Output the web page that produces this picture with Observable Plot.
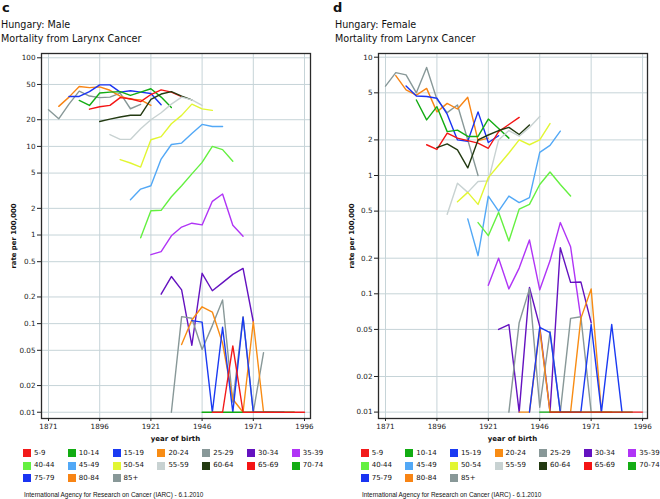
<!DOCTYPE html>
<html>
<head>
<meta charset="utf-8">
<script src="https://cdn.jsdelivr.net/npm/d3@7"></script>
<script src="https://cdn.jsdelivr.net/npm/@observablehq/plot@0.6"></script>
<style>
  html, body { margin: 0; padding: 0; background: #fff; }
  #wrap { position: relative; width: 660px; height: 499px; background: #fff; overflow: hidden; font-family: "DejaVu Sans", sans-serif; color: #111; }
  .abs { position: absolute; white-space: nowrap; }
  .panel { font-size: 13px; line-height: 13px; font-weight: bold; }
  .title { font-size: 9.6px; line-height: 14px; }
  .ylab { font-size: 6.9px; font-weight: bold; transform: translate(-50%, -50%) rotate(-90deg); }
  .xlab { font-size: 7px; font-weight: bold; transform: translate(-50%, -50%); }
  .sw { position: absolute; width: 8px; height: 8px; }
  .lt { position: absolute; font-size: 7px; line-height: 8px; white-space: nowrap; }
  .cap { font-family: "Liberation Sans", Arial, sans-serif; font-size: 6.4px; }
</style>
</head>
<body>
<div id="wrap"></div>
<script>
// ---- data ----
const ageGroups = ["5-9","10-14","15-19","20-24","25-29","30-34","35-39","40-44","45-49","50-54","55-59","60-64","65-69","70-74","75-79","80-84","85+"];
const colors = ["#f21a1a","#12ac12","#1a3af2","#f88c14","#889898","#6412c0","#b034f6","#64f040","#52a8f6","#e2f632","#c8d2d2","#233a12","#f41414","#14ac14","#1a34f2","#f88414","#889898"];
const cohortYears = [1871,1876,1881,1886,1891,1896,1901,1906,1911,1916,1921,1926,1931,1936,1941,1946,1951,1956,1961,1966,1971,1976,1981,1986,1991,1996];
const firstCohort = [1951,1946,1941,1936,1931,1926,1921,1916,1911,1906,1901,1896,1891,1886,1881,1876,1871];
const xTicks = [1871,1896,1921,1946,1971,1996];
const yTicksMale = [100,50,20,10,5,2,1,0.5,0.2,0.1,0.05,0.02,0.01];
const yTicksFemale = [10,5,2,1,0.5,0.2,0.1,0.05,0.02,0.01];

// Male rates per 100,000 (by birth cohort, 10 cohorts each)
const m5_9   = [0.01,0.01,0.056,0.01,0.01,0.01,0.01,0.01,0.01,0.01];
const m10_14 = [0.01,0.01,0.01,0.01,0.01,0.01,0.01,0.01,0.01,0.01];
const m15_19 = [0.108,0.104,0.01,0.091,0.01,0.118,0.01,0.01,0.01,0.01];
const m20_24 = [0.058,0.11,0.155,0.135,0.06,0.014,0.01,0.105,0.01,0.01];
const m25_29 = [0.01,0.12,0.115,0.051,0.095,0.185,0.013,0.12,0.01,0.047];
const m30_34 = [0.215,0.34,0.24,0.057,0.37,0.235,0.29,0.36,0.42,0.105];
const m35_39 = [0.6,0.65,0.98,1.23,1.36,1.3,2.4,2.9,1.29,0.97];
const m40_44 = [0.93,1.88,1.9,2.7,3.6,4.9,6.6,10,9.2,6.8];
const m45_49 = [2.5,3.3,3.6,7.2,10.5,10.9,14,17.7,16.8,16.8];
const m50_54 = [7.1,6.5,5.85,11.9,12.9,18,22.4,30,26.5,25.5];
const m55_59 = [13.6,12,12,15.8,20,24,30,36,33.5,29];
const m60_64 = [19.1,20.3,21.5,22.5,22.5,34,39,41.5,37,33.5];
const m65_69 = [26.3,28,29,35.5,34.5,32,38.5,43.5,41,36.5];
const m70_74 = [33,29,40,41,41.5,37.6,41,44.7,36,27.5];
const m75_79 = [36.6,36.6,41.5,49.5,49.5,41,42.5,41,39.5,29.5];
const m80_84 = [28.3,36,47.5,46,47,43,37,34,33.5,29];
const m85    = [25.9,20.5,30,42,37,35.5,36,40,26.6,29.8];

// Female rates per 100,000
const f5_9   = [0.01,0.01,0.01,0.01,0.01,0.01,0.01,0.01,0.01,0.01];
const f10_14 = [0.01,0.01,0.01,0.01,0.01,0.01,0.01,0.01,0.01,0.01];
const f15_19 = [0.01,0.052,0.047,0.01,0.01,0.01,0.055,0.01,0.055,0.01];
const f20_24 = [0.01,0.01,0.05,0.01,0.01,0.01,0.062,0.11,0.01,0.01];
const f25_29 = [0.01,0.057,0.11,0.011,0.048,0.01,0.062,0.064,0.01,0.01];
const f30_34 = [0.05,0.055,0.01,0.113,0.053,0.01,0.245,0.125,0.126,0.057];
const f35_39 = [0.118,0.2,0.11,0.165,0.285,0.108,0.19,0.4,0.25,0.062];
const f40_44 = [0.4,0.31,0.49,0.28,0.52,0.57,0.84,1.07,0.84,0.67];
const f45_49 = [0.43,0.21,0.67,0.5,0.67,0.59,0.65,1.57,1.8,2.37];
const f50_54 = [0.6,0.72,0.57,0.96,1.22,1.55,2.0,1.82,2.0,2.75];
const f55_59 = [0.47,0.86,0.72,0.89,0.9,2.0,2.4,2.15,2.55,3.15];
const f60_64 = [1.72,1.85,1.65,1.16,2.0,2.2,2.4,2.55,2.22,2.67];
const f65_69 = [1.82,1.66,2.28,2.07,1.97,1.88,1.7,2.35,2.7,3.1];
const f70_74 = [4.35,2.95,3.82,2.35,2.42,2.14,2.14,3.0,2.5,2.07];
const f75_79 = [5.7,4.7,4.65,4.5,3.3,2.0,1.95,3.45,1.9,2.17];
const f80_84 = [7.0,5.3,4.78,5.45,3.45,4.07,3.65,4.58,1.97,2.07];
const f85    = [5.7,7.4,7.1,5.0,8.2,4.4,3.4,3.95,2.0,1.0];

const maleRates = [m5_9,m10_14,m15_19,m20_24,m25_29,m30_34,m35_39,m40_44,m45_49,m50_54,m55_59,m60_64,m65_69,m70_74,m75_79,m80_84,m85];
const femaleRates = [f5_9,f10_14,f15_19,f20_24,f25_29,f30_34,f35_39,f40_44,f45_49,f50_54,f55_59,f60_64,f65_69,f70_74,f75_79,f80_84,f85];

function rows(rates) {
  const out = [];
  for (let g = ageGroups.length - 1; g >= 0; g--) {
    const s = cohortYears.indexOf(firstCohort[g]);
    rates[g].forEach((v, j) => out.push({age: ageGroups[g], year: cohortYears[s + j], rate: v}));
  }
  return out;
}

function panel(data, yTicks, yDomain, xDomain, mLeft, mRight) {
  return Plot.plot({
    width: 330, height: 445,
    marginLeft: mLeft, marginRight: mRight, marginTop: 53, marginBottom: 27,
    x: {domain: xDomain},
    y: {type: "log", domain: yDomain},
    color: {domain: ageGroups, range: colors},
    style: {fontFamily: "DejaVu Sans, sans-serif", fontSize: "7.2px", color: "#222", background: "transparent", overflow: "visible"},
    marks: [
      Plot.gridX(xTicks, {stroke: "#c6d4d8", strokeOpacity: 1, strokeWidth: 1}),
      Plot.gridY(yTicks, {stroke: "#c6d4d8", strokeOpacity: 1, strokeWidth: 1}),
      Plot.line(data, {x: "year", y: "rate", z: "age", stroke: "age", strokeWidth: 1.4}),
      Plot.frame({stroke: "#2a2a2a", strokeWidth: 1.3}),
      Plot.axisX(xTicks, {tickSize: 3, tickPadding: 2, tickFormat: d => String(d), label: null, stroke: "#222"}),
      Plot.axisY(yTicks, {tickSize: 4, tickPadding: 2, tickFormat: () => "", label: null, stroke: "#222"}),
      Plot.text(yTicks, {y: d => d, text: d => String(d), frameAnchor: "left", textAnchor: "end", dx: -6, fill: "#222"})
    ]
  });
}

const wrap = document.getElementById("wrap");

const left = panel(rows(maleRates), yTicksMale, [0.0085, 111.8], [1867.58, 1998.93], 41, 20);
left.style.position = "absolute"; left.style.left = "0px"; left.style.top = "0px";
wrap.appendChild(left);

const right = panel(rows(femaleRates), yTicksFemale, [0.00883, 10.75], [1867.6, 1998.4], 48, 13);
right.style.position = "absolute"; right.style.left = "330px"; right.style.top = "0px";
wrap.appendChild(right);

function addText(cls, txt, x, y) {
  const d = document.createElement("div");
  d.className = "abs " + cls;
  d.textContent = txt;
  d.style.left = x + "px"; d.style.top = y + "px";
  wrap.appendChild(d);
  return d;
}

// titles
addText("panel", "c", 2, 1);
addText("title", "Hungary: Male", 1, 18);
addText("title", "Mortality from Larynx Cancer", 1, 32);
addText("panel", "d", 333, 1);
addText("title", "Hungary: Female", 335, 18);
addText("title", "Mortality from Larynx Cancer", 335, 32);

// axis labels
addText("ylab", "rate per 100,000", 14, 235.5);
addText("ylab", "rate per 100,000", 352, 235.5);
addText("xlab", "year of birth", 175.5, 439);
addText("xlab", "year of birth", 512.5, 439);

// legends
function legend(x0, step) {
  ageGroups.forEach((a, i) => {
    const col = i % 7, row = Math.floor(i / 7);
    const x = x0 + col * step, y = 453 + row * 12.5;
    const s = document.createElement("div");
    s.className = "sw";
    s.style.left = x + "px"; s.style.top = (y - 4) + "px";
    s.style.background = colors[i];
    wrap.appendChild(s);
    const t = document.createElement("div");
    t.className = "lt";
    t.textContent = a;
    t.style.left = (x + 11) + "px"; t.style.top = (y - 4.5) + "px";
    wrap.appendChild(t);
  });
}
legend(23, 44.8);
legend(360.7, 44.6);

addText("cap", "International Agency for Research on Cancer (IARC) - 6.1.2010", 24, 491);
addText("cap", "International Agency for Research on Cancer (IARC) - 6.1.2010", 362, 491);
</script>
</body>
</html>
